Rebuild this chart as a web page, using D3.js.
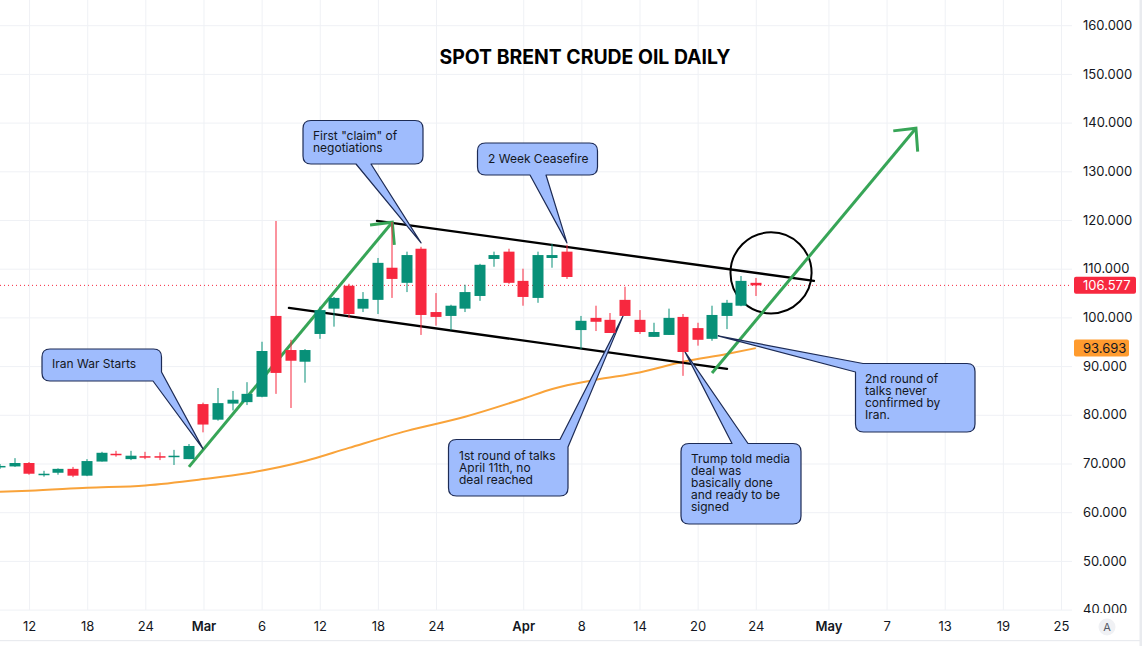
<!DOCTYPE html>
<html><head><meta charset="utf-8">
<script src="https://cdn.jsdelivr.net/npm/d3@7"></script>
<style>html,body{margin:0;padding:0;background:#fff}svg{display:block}text{font-family:Inter,"Liberation Sans",sans-serif}</style>
</head><body><svg id="c" width="1142" height="646"></svg>
<script>
const dates=["Feb 10","Feb 11","Feb 12","Feb 13","Feb 16","Feb 17","Feb 18","Feb 19","Feb 20","Feb 23","Feb 24","Feb 25","Feb 26","Feb 27","Mar 2","Mar 3","Mar 4","Mar 5","Mar 6","Mar 9","Mar 10","Mar 11","Mar 12","Mar 13","Mar 16","Mar 17","Mar 18","Mar 19","Mar 20","Mar 23","Mar 24","Mar 25","Mar 26","Mar 27","Mar 30","Mar 31","Apr 1","Apr 2","Apr 6","Apr 7","Apr 8","Apr 9","Apr 10","Apr 13","Apr 14","Apr 15","Apr 16","Apr 17","Apr 20","Apr 21","Apr 22","Apr 23","Apr 24"];
const opens=[69.2,69.4,70.1,67.8,68.1,68.9,67.5,70.4,72.0,70.9,71.5,71.5,71.4,70.9,82.2,79.0,82.3,82.6,83.7,100.3,93.3,90.9,96.6,101.8,106.5,101.8,103.6,110.2,107.1,114.1,101.1,100.3,101.8,104.4,112.0,113.5,107.5,104.0,112.2,113.5,97.4,99.9,99.5,103.6,99.5,96.0,96.4,100.1,97.8,95.6,100.3,102.4,107.1];
const highs=[69.9,71.1,70.3,68.5,69.0,69.3,70.9,72.4,72.6,72.6,72.4,72.3,72.8,74.0,82.5,85.5,84.9,86.7,95.0,119.8,95.4,93.5,102.2,104.2,106.9,105.2,112.2,119.6,113.5,114.5,105.0,102.6,106.7,111.0,113.5,114.1,110.0,113.5,115.1,114.9,100.3,102.4,100.9,106.3,101.5,98.9,101.8,100.7,98.9,102.4,103.6,108.5,108.1];
const lows=[68.9,69.3,67.7,67.3,67.7,67.2,67.4,70.4,71.4,70.7,70.9,70.7,69.7,70.9,76.4,78.8,80.9,82.0,83.6,84.3,81.4,86.6,95.6,98.1,99.9,101.1,100.7,104.0,105.2,96.4,98.3,97.4,101.1,103.4,110.4,106.9,102.4,103.0,110.2,107.9,93.5,97.2,96.8,100.3,96.6,96.0,96.4,88.0,94.2,95.2,97.6,102.3,104.4];
const closes=[69.5,70.1,67.9,67.9,68.9,67.5,70.5,72.2,71.8,71.6,71.4,71.4,71.6,73.6,78.0,82.4,83.1,84.3,93.1,88.6,91.1,93.3,101.5,104.0,100.7,103.8,111.2,107.9,112.8,100.5,100.1,102.4,105.2,110.8,112.8,107.1,104.2,112.8,112.8,108.3,99.3,99.1,96.8,100.3,97.0,97.0,99.9,92.9,95.4,100.5,103.0,107.5,106.577];
const maIndex=[0,2,6,10,14,17,21,24,28,32,36,38,41,44,47,50,52];
const maValues=[64.2,64.4,65.0,65.5,66.8,68.0,70.5,73.2,76.7,79.6,83.3,85.3,87.2,88.7,90.9,92.5,93.693];
const priceTicks=[40,50,60,70,80,90,100,110,120,130,140,150,160];
const timeTickIndex=[2,6,10,14,18,22,26,30,36,40,44,48,52,57,61,65,69,73];
const timeTickLabels=["12","18","24","Mar","6","12","18","24","Apr","8","14","20","24","May","7","13","19","25"];
const title="SPOT BRENT CRUDE OIL DAILY";
const lastPrice=106.577, maLast=93.693;
const blackLines=[[[25.94,119.82],[56.0,107.49]],[[19.88,101.95],[50.02,89.43]]];
const greenArrows=[{from:[13.0,69.3],tip:[26.99,119.55],a:[25.46,118.99],b:[27.13,114.89]},{from:[48.99,88.6],tip:[63.02,138.85],a:[61.46,138.3],b:[63.14,134.05]}];
const circleCenter=[53.05,109.14], circleRadiusBars=2.79;
const calloutText=[["Iran War Starts"],["First \"claim\" of","negotiations"],["2 Week Ceasefire"],["1st round of talks","April 11th, no","deal reached"],["Trump told media","deal was","basically done","and ready to be","signed"],["2nd round of","talks never","confirmed by","Iran."]];
const calloutTip=[[13.97,73.0],[28.97,115.3],[39.01,115.3],[42.87,100.31],[47.13,92.92],[49.4,96.2]];

const C={green:"#089078",red:"#f7283f",grid:"#eff1f5",text:"#131722",arrow:"#37a557",ma:"#f9a33a",fill:"#9fbcfd",stroke:"#1d2b55"};
const plotRight=1072, plotBottom=610;
// box [left, top, right, bottom], tail base points, first text-line centre
const calloutBox=[
 {r:[42,349,161.5,381],t:[[153,381],[161.5,372]],tx:52,ty:363.7},
 {r:[303,120.5,423,164],t:[[356,164],[371,164]],tx:313,ty:135.7},
 {r:[477.5,143,597.5,175],t:[[530,175],[546,175]],tx:488,ty:158.7},
 {r:[448.5,439.5,568,496],t:[[560,439.5],[568,447]],tx:459,ty:455.5},
 {r:[681,443.5,801,524],t:[[732,443.5],[748,443.5]],tx:691,ty:458.7},
 {r:[855.5,363.5,975,432],t:[[855.5,372],[863,363.5]],tx:865,ty:378.7}
];

const x=d3.scaleLinear().domain([0,73]).range([0,1061]);
const y=d3.scaleLinear().domain([40,160]).range([609.6,25.2]);
const svg=d3.select("#c");
const defs=svg.append("defs");
defs.append("clipPath").attr("id","plot").append("rect").attr("width",plotRight).attr("height",plotBottom);
defs.append("clipPath").attr("id","yl").append("rect").attr("x",plotRight).attr("width",70).attr("height",613);

// grid
const gy=svg.append("g").call(d3.axisRight(y).tickValues(priceTicks).tickSize(plotRight).tickFormat(""));
gy.select(".domain").remove(); gy.selectAll("line").attr("stroke",C.grid);
const gx=svg.append("g").attr("transform",`translate(0,${plotBottom})`).call(d3.axisTop(x).tickValues(timeTickIndex).tickSize(plotBottom).tickFormat(""));
gx.select(".domain").remove(); gx.selectAll("line").attr("stroke",C.grid);

const plot=svg.append("g").attr("clip-path","url(#plot)");
// MA
plot.append("path").datum(maIndex.map((d,i)=>[d,maValues[i]])).attr("fill","none").attr("stroke",C.ma).attr("stroke-width",2)
 .attr("d",d3.line().x(d=>x(d[0])).y(d=>y(d[1])).curve(d3.curveMonotoneX));
// last price
plot.append("line").attr("x1",0).attr("x2",plotRight).attr("y1",y(lastPrice)).attr("y2",y(lastPrice)).attr("stroke",C.red).attr("stroke-dasharray","1 3").attr("stroke-width",1);
// drawings
const ln=d3.line().x(d=>x(d[0])).y(d=>y(d[1]));
plot.selectAll(".bl").data(blackLines).join("path").attr("d",ln).attr("stroke","#000").attr("stroke-width",2.4).attr("stroke-linecap","round").attr("fill","none");
plot.append("circle").attr("cx",x(circleCenter[0])).attr("cy",y(circleCenter[1])).attr("r",x(circleRadiusBars)-x(0)).attr("fill","none").attr("stroke","#000").attr("stroke-width",2);
plot.selectAll(".ga").data(greenArrows).join("g").each(function(d){
 const g=d3.select(this);
 g.append("path").attr("d",ln([d.from,d.tip]));
 g.append("path").attr("d",ln([d.a,d.tip,d.b]));
 g.selectAll("path").attr("fill","none").attr("stroke",C.arrow).attr("stroke-width",3);
});
// callouts
function calloutPath(b,tip){
 const [l,t,r,bt]=b.r, R=8, p=d3.path(), [a,c]=b.t;
 const onTop=a[1]===t&&c[1]===t, onBottom=a[1]===bt&&c[1]===bt, cornerBR=a[1]===bt&&c[0]===r, cornerTR=a[1]===t&&c[0]===r, cornerTL=a[0]===l&&c[1]===t;
 if(cornerTL){p.moveTo(a[0],a[1]);p.lineTo(tip[0],tip[1]);p.lineTo(c[0],c[1]);}else{p.moveTo(l+R,t);}
 if(onTop){p.lineTo(a[0],t);p.lineTo(tip[0],tip[1]);p.lineTo(c[0],t);}
 if(cornerTR){p.lineTo(a[0],t);p.lineTo(tip[0],tip[1]);p.lineTo(c[0],c[1]);p.lineTo(r,bt-R);}
 else{p.lineTo(r-R,t);p.quadraticCurveTo(r,t,r,t+R);
   if(cornerBR){p.lineTo(c[0],c[1]);p.lineTo(tip[0],tip[1]);p.lineTo(a[0],a[1]);}
   else{p.lineTo(r,bt-R);}}
 if(!cornerBR){p.quadraticCurveTo(r,bt,r-R,bt);}
 if(onBottom){p.lineTo(c[0],bt);p.lineTo(tip[0],tip[1]);p.lineTo(a[0],bt);}
 p.lineTo(l+R,bt);p.quadraticCurveTo(l,bt,l,bt-R);
 if(cornerTL){p.lineTo(a[0],a[1]);}else{p.lineTo(l,t+R);p.quadraticCurveTo(l,t,l+R,t);}
 p.closePath();return p.toString();
}
const co=plot.append("g");
calloutBox.forEach((b,i)=>{
 const tip=[x(calloutTip[i][0]),y(calloutTip[i][1])];
 co.append("path").attr("d",calloutPath(b,tip)).attr("fill",C.fill).attr("stroke",C.stroke).attr("stroke-width",1.2).attr("stroke-linejoin","round");
 co.append("g").selectAll("text").data(calloutText[i]).join("text").attr("x",b.tx).attr("y",(d,j)=>b.ty+12*j).attr("dy","0.35em").attr("font-size",12).attr("fill",C.text).text(d=>d);
});
// candles
const cw=11;
const candles=plot.append("g").selectAll("g").data(dates).join("g").attr("fill",(d,i)=>closes[i]>=opens[i]?C.green:C.red);
candles.append("rect").attr("x",(d,i)=>Math.round(x(i))-0.5).attr("width",1).attr("y",(d,i)=>y(highs[i])).attr("height",(d,i)=>y(lows[i])-y(highs[i]));
candles.append("rect").attr("x",(d,i)=>Math.round(x(i))-cw/2).attr("width",cw).attr("y",(d,i)=>y(Math.max(opens[i],closes[i]))).attr("height",(d,i)=>Math.max(1.5,Math.abs(y(opens[i])-y(closes[i]))));

// title
svg.append("text").attr("x",585).attr("y",57).attr("dy","0.35em").attr("text-anchor","middle").attr("font-size",19.4).attr("font-weight",700).attr("fill","#000").text(title);
// axes labels
const ya=svg.append("g").attr("clip-path","url(#yl)").append("g").attr("transform","translate(1083,0)").call(d3.axisRight(y).tickValues(priceTicks).tickSize(0).tickPadding(0).tickFormat(d3.format(".3f")));
ya.select(".domain").remove(); ya.selectAll("text").attr("font-size",13).attr("font-family",null).attr("fill",C.text);
const xa=svg.append("g").attr("transform","translate(0,622)").call(d3.axisBottom(x).tickValues(timeTickIndex).tickSize(0).tickPadding(0).tickFormat((d,i)=>timeTickLabels[i]));
xa.select(".domain").remove(); xa.selectAll("text").attr("font-size",13).attr("font-family",null).attr("fill",C.text).attr("font-weight",(d,i)=>/[A-Z]/.test(timeTickLabels[i])?600:400);
// labels
function tag(val,w,fill,color){
 const yy=y(val);
 svg.append("rect").attr("x",1074).attr("y",yy-8.5).attr("width",w).attr("height",17).attr("rx",2).attr("fill",fill);
 svg.append("text").attr("x",1083).attr("y",yy).attr("dy","0.35em").attr("font-size",13).attr("fill",color).text(val.toFixed(3));
}
tag(lastPrice,62,C.red,"#fff");
tag(maLast,55,"#ff9b2e","#131722");
// frame
svg.append("rect").attr("x",1139.5).attr("width",2.5).attr("height",646).attr("fill","#e9ebef");
svg.append("rect").attr("y",640).attr("width",1142).attr("height",1.2).attr("fill","#e9ebef");
svg.append("circle").attr("cx",1107).attr("cy",627).attr("r",8.5).attr("fill","#f0f1f4");
svg.append("text").attr("x",1107).attr("y",627).attr("dy","0.36em").attr("text-anchor","middle").attr("font-size",11).attr("fill","#555a66").text("A");
</script></body></html>
